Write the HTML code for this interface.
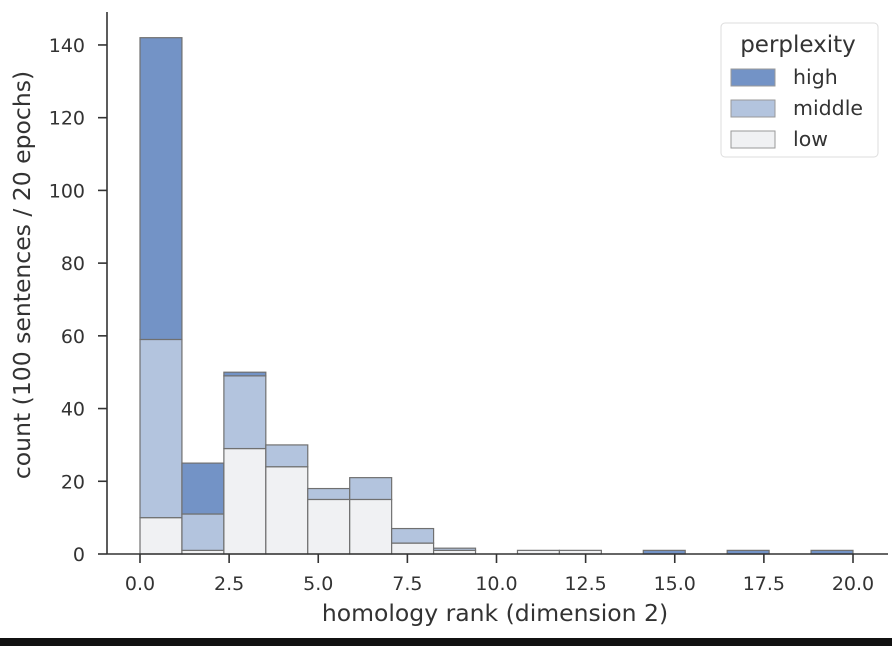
<!DOCTYPE html>
<html><head><meta charset="utf-8"><style>
body{margin:0;background:#fff;width:892px;height:646px;overflow:hidden;font-family:"DejaVu Sans","Liberation Sans",sans-serif;}
svg text{fill:#333;}
</style></head><body>
<svg id="c" width="892" height="646">
<rect x="0" y="638" width="892" height="8" fill="#111"/>
</svg>
<script>
const binCount = 17;
const xMin = 0, xMax = 20;
const lowVals    = [10, 1, 29, 24, 15, 15, 3, 1, 0, 1, 1, 0, 0, 0, 0, 0, 0];
const middleVals = [49, 10, 20, 6, 3, 6, 4, 0.6, 0, 0, 0, 0, 0, 0, 0, 0, 0];
const highVals   = [83, 14, 1, 0, 0, 0, 0, 0, 0, 0, 0, 0, 1, 0, 1, 0, 1];
const xTicks = [0, 2.5, 5, 7.5, 10, 12.5, 15, 17.5, 20];
const yTicks = [0, 20, 40, 60, 80, 100, 120, 140];

const svg = document.getElementById('c');
const NS = 'http://www.w3.org/2000/svg';
const x = v => 140 + (v - xMin) / (xMax - xMin) * 713;
const y = v => 554 - v * 3.636;
function mk(tag, attrs, parent){const e=document.createElementNS(NS,tag);for(const k in attrs)e.setAttribute(k,attrs[k]);(parent||svg).appendChild(e);return e;}

const series = [[lowVals,'#f0f1f3','low'],[middleVals,'#b3c4de','middle'],[highVals,'#7393c6','high']];
const bw = (xMax - xMin) / binCount;
for(let i=0;i<binCount;i++){
  let base=0;
  for(const [vals,col,nm] of series){
    const v=vals[i]; if(v<=0) continue;
    const r=mk('rect',{x:x(i*bw),y:y(base+v),width:x((i+1)*bw)-x(i*bw),height:y(base)-y(base+v),fill:col,stroke:'#707070','stroke-width':1.2});
    
    
    base+=v;
  }
}
const ax=mk('line',{x1:107,y1:12,x2:107,y2:554,stroke:'#333','stroke-width':1.6});


const bx=mk('line',{x1:107,y1:554,x2:888,y2:554,stroke:'#333','stroke-width':1.6});


for(const t of xTicks){
  mk('line',{x1:x(t),y1:554,x2:x(t),y2:563,stroke:'#333','stroke-width':1.6});
  const tx=mk('text',{x:x(t),y:590,'text-anchor':'middle','font-size':19});
  tx.textContent=t.toFixed(1);
  
  
}
for(const t of yTicks){
  mk('line',{x1:98,y1:y(t),x2:107,y2:y(t),stroke:'#333','stroke-width':1.6});
  const tx=mk('text',{x:85,y:y(t)+7,'text-anchor':'end','font-size':19});
  tx.textContent=t;
  
  
}
const xl=mk('text',{x:495,y:621,'text-anchor':'middle','font-size':23.5});
xl.textContent='homology rank (dimension 2)';


const yl=mk('text',{x:0,y:0,'text-anchor':'middle','font-size':23.5,transform:'translate(30,275) rotate(-90)'});
yl.textContent='count (100 sentences / 20 epochs)';


const lg=mk('g',{});


mk('rect',{x:721,y:23,width:157,height:134,rx:4,fill:'#fff',stroke:'#ddd','stroke-width':1},lg);
const lt=mk('text',{x:798,y:52,'text-anchor':'middle','font-size':23},lg);
lt.textContent='perplexity';
const items=[['high','#7393c6'],['middle','#b3c4de'],['low','#f0f1f3']];
items.forEach((it,k)=>{
  const yy=69+k*31;
  const e=mk('g',{},lg);
  
  
  mk('rect',{x:731,y:yy,width:44,height:17,fill:it[1],stroke:'#999','stroke-width':1},e);
  const t=mk('text',{x:793,y:yy+15,'font-size':20.5},e);
  t.textContent=it[0];
});
</script>
</body></html>
